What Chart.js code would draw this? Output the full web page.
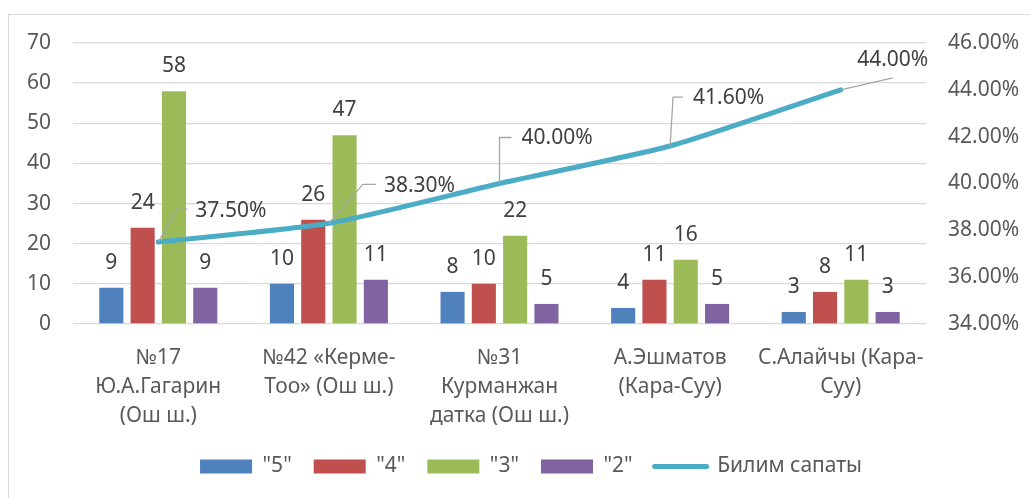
<!DOCTYPE html>
<html>
<head>
<meta charset="utf-8">
<script src="https://cdn.jsdelivr.net/npm/chart.js@4.4.1/dist/chart.umd.min.js"></script>
<style>
    html, body { margin: 0; padding: 0; background: #fff; }
    #wrap { position: relative; width: 1030px; height: 498px; overflow: hidden; }
    #frame { position: absolute; left: 8px; top: 14px; width: 1100px; height: 600px; border: 1px solid #d9d9d9; }
    #chart { position: absolute; left: 0; top: 0; }
</style>
</head>
<body>
<div id="wrap">
    <div id="frame"></div>
    <canvas id="chart" width="1030" height="498"></canvas>
</div>
<script>
var schools = [
    ['№17', 'Ю.А.Гагарин', '(Ош ш.)'],
    ['№42 «Керме-', 'Тоо» (Ош ш.)'],
    ['№31', 'Курманжан', 'датка (Ош ш.)'],
    ['А.Эшматов', '(Кара-Суу)'],
    ['С.Алайчы (Кара-', 'Суу)']
];
var grade5 = [9, 10, 8, 4, 3];
var grade4 = [24, 26, 10, 11, 8];
var grade3 = [58, 47, 22, 16, 11];
var grade2 = [9, 11, 5, 5, 3];
var quality = [37.5, 38.3, 40.0, 41.6, 44.0];

var countTicks = {min: 0, max: 70, step: 10};
var qualityTicks = {min: 34, max: 46, step: 2};

var FONT = '"Noto Sans", sans-serif';
var TEXT = '#595959';

// where each percentage label sits relative to its point (leader bend, text anchor)
var lineLabelOffsets = [
    {bx: 19, by: -33, ex: 29, tx: 37, ty: -31, align: 'left'},
    {bx: 34, by: -39, ex: 47, tx: 55, ty: -37, align: 'left'},
    {bx: 0, by: -46, ex: 12, tx: 22, ty: -45, align: 'left'},
    {bx: 3, by: -49, ex: 13, tx: 23, ty: -48, align: 'left'},
    {bx: 52, by: -12, ex: 52, tx: 52, ty: -30, align: 'center'}
];

var valueLabels = {
    id: 'valueLabels',
    afterLayout: function (chart) {
        // excel centres the legend on a slightly wider frame
        chart.legend.left += 32;
    },
    afterDatasetsDraw: function (chart) {
        var ctx = chart.ctx;
        ctx.save();
        ctx.font = '21px ' + FONT;
        ctx.textBaseline = 'middle';

        chart.data.datasets.forEach(function (ds, i) {
            if (ds.type === 'line') return;
            var meta = chart.getDatasetMeta(i);
            ctx.fillStyle = '#404040';
            ctx.textAlign = 'center';
            meta.data.forEach(function (bar, j) {
                ctx.fillText(String(ds.data[j]), bar.x, bar.y - 25);
            });
        });

        var lineIdx = chart.data.datasets.length - 1;
        var lineMeta = chart.getDatasetMeta(lineIdx);
        lineMeta.data.forEach(function (pt, j) {
            var o = lineLabelOffsets[j];
            ctx.strokeStyle = '#a6a6a6';
            ctx.lineWidth = 1.3;
            ctx.beginPath();
            ctx.moveTo(pt.x, pt.y);
            ctx.lineTo(pt.x + o.bx, pt.y + o.by);
            ctx.lineTo(pt.x + o.ex, pt.y + o.by);
            ctx.stroke();
            ctx.fillStyle = '#404040';
            ctx.textAlign = o.align;
            ctx.fillText(quality[j].toFixed(2) + '%', pt.x + o.tx, pt.y + o.ty);
        });
        ctx.restore();
    }
};

Chart.defaults.font.family = FONT;
Chart.defaults.font.size = 21;
Chart.defaults.color = TEXT;

function barSet(label, data, color) {
    return {
        type: 'bar',
        label: label,
        data: data,
        backgroundColor: color,
        yAxisID: 'y',
        order: 1,
        categoryPercentage: 0.734,
        barPercentage: 0.77
    };
}

new Chart(document.getElementById('chart'), {
    data: {
        labels: schools,
        datasets: [
            barSet('"5"', grade5, '#4f81bd'),
            barSet('"4"', grade4, '#c0504d'),
            barSet('"3"', grade3, '#9bbb59'),
            barSet('"2"', grade2, '#8064a2'),
            {
                type: 'line',
                label: 'Билим сапаты',
                data: quality,
                borderColor: '#4bacc6',
                backgroundColor: '#4bacc6',
                borderWidth: 5,
                borderCapStyle: 'round',
                tension: 0.2,
                pointRadius: 0,
                pointHoverRadius: 0,
                yAxisID: 'y1',
                order: 0
            }
        ]
    },
    options: {
        responsive: false,
        animation: false,
        layout: {padding: {top: 43, bottom: 11, left: 0, right: 0}},
        plugins: {
            tooltip: {enabled: false},
            legend: {
                position: 'bottom',
                labels: {
                    usePointStyle: true,
                    pointStyleWidth: 52,
                    boxHeight: 14,
                    padding: 22,
                    color: TEXT,
                    font: {size: 21, family: FONT},
                    generateLabels: function (chart) {
                        var items = Chart.defaults.plugins.legend.labels.generateLabels(chart);
                        items.forEach(function (it) {
                            var ds = chart.data.datasets[it.datasetIndex];
                            if (ds.type === 'line') {
                                it.pointStyle = 'line';
                                it.lineWidth = 5;
                                it.strokeStyle = ds.borderColor;
                                it.lineCap = 'round';
                            } else {
                                it.pointStyle = 'rect';
                                it.lineWidth = 0;
                            }
                        });
                        return items.sort(function (a, b) {
                            return a.datasetIndex - b.datasetIndex;
                        });
                    }
                }
            }
        },
        scales: {
            x: {
                grid: {display: false},
                border: {display: false},
                ticks: {padding: 11, maxRotation: 0, autoSkip: false, font: {size: 21, lineHeight: 1.4}},
                afterFit: function (scale) { scale.height = 110; }
            },
            y: {
                position: 'left',
                min: countTicks.min,
                max: countTicks.max,
                ticks: {stepSize: countTicks.step, padding: 22},
                grid: {color: '#d9d9d9', lineWidth: 1.3, drawTicks: false},
                border: {display: false},
                afterFit: function (scale) { scale.width = 73; }
            },
            y1: {
                position: 'right',
                min: qualityTicks.min,
                max: qualityTicks.max,
                ticks: {
                    stepSize: qualityTicks.step,
                    padding: 22,
                    callback: function (v) { return v.toFixed(2) + '%'; }
                },
                grid: {display: false, drawTicks: false},
                border: {display: false},
                afterFit: function (scale) { scale.width = 104; }
            }
        }
    },
    plugins: [valueLabels]
});
</script>
</body>
</html>
